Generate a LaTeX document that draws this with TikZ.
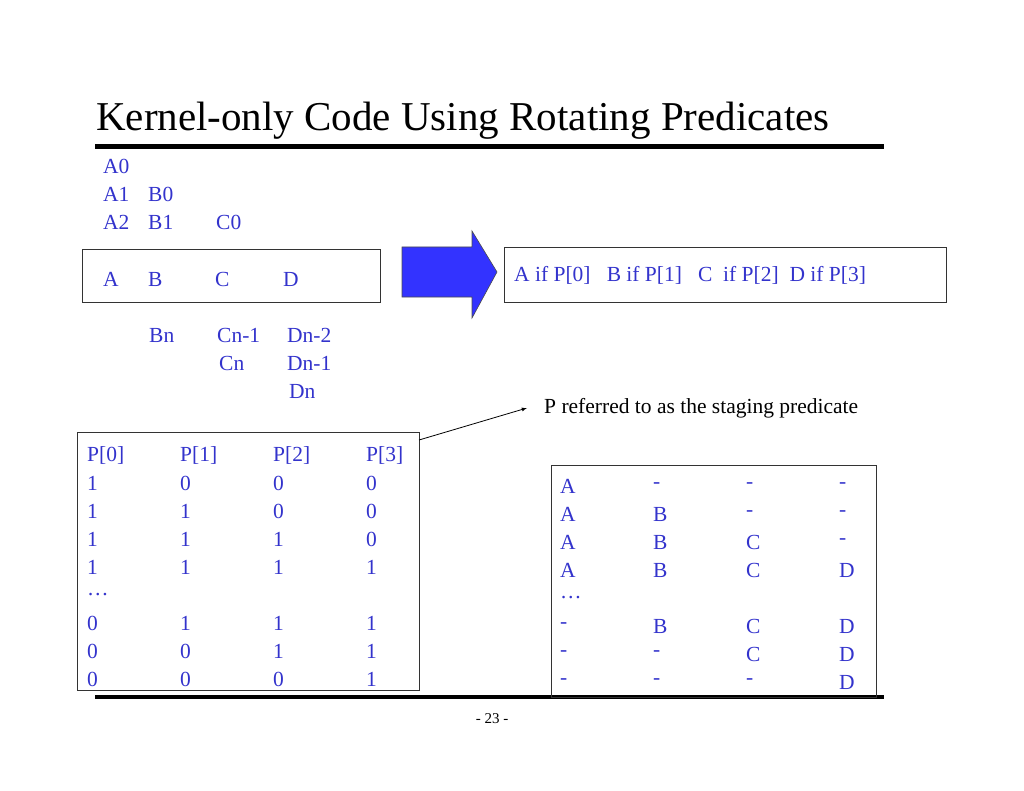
\documentclass[tikz,border=0pt]{standalone}
\usepackage{fontspec}
\setmainfont{Liberation Serif}
\begin{document}
\begin{tikzpicture}[x=1pt,y=-1pt,
  bt/.style={text=txtblue,font=\fontsize{21.5}{23}\selectfont,anchor=west,inner sep=0pt},
  box/.style={draw=black!80,line width=1pt}]
\definecolor{txtblue}{RGB}{51,51,204}
\definecolor{arrblue}{RGB}{51,51,255}
\useasboundingbox (0,0) rectangle (1024,791);
\node[anchor=west,inner sep=0pt,font=\fontsize{41}{43}\selectfont] (title) at (96,121) {Kernel-only Code Using Rotating Predicates};
\draw[line width=5pt] (95,147) -- (884,147);
\draw[line width=4pt] (95,697) -- (884,697);
% top left
\node[bt] (a0) at (103,166) {A0};
\node[bt] (a1) at (103,194) {A1};
\node[bt] (b0) at (148,194) {B0};
\node[bt] (a2) at (103,222) {A2};
\node[bt] (b1) at (148,222) {B1};
\node[bt] (c0) at (216,222) {C0};
\draw[box] (82,250) rectangle (380,302);
\node[bt] (A) at (103,279) {A};
\node[bt] (B) at (148,279) {B};
\node[bt] (C) at (215,279) {C};
\node[bt] (D) at (283,279) {D};
\node[bt] (bn) at (149,335) {Bn};
\node[bt] (cn1) at (217,335) {Cn-1};
\node[bt] (dn2) at (287,335) {Dn-2};
\node[bt] (cn) at (219,363) {Cn};
\node[bt] (dn1) at (287,363) {Dn-1};
\node[bt] (dn) at (289,391) {Dn};
% arrow
\draw[fill=arrblue,draw=black!70,line width=0.6pt] (402,247) -- (472,247) -- (472,231) -- (497,272) -- (472,318) -- (472,297) -- (402,297) -- cycle;
\draw[box] (504,248) rectangle (946,302);
\node[bt] (pred) at (514,275) {A if P[0]\ \ \ B if P[1]\ \ \ C\ \ if P[2]\ \ D if P[3]};
% note
\node[anchor=west,inner sep=0pt,font=\fontsize{21.5}{23}\selectfont] (note) at (544,408) {P referred to as the staging predicate};
\coordinate (ne) at (527,408);
% P table
\draw[box] (77,432) rectangle (419,690);
\coordinate (ptr) at (419,440);
\draw[-latex,line width=0.8pt] (ptr) -- (ne);
\foreach \r [count=\i from 0] in {{P[0],P[1],P[2],P[3]},{1,0,0,0},{1,1,0,0},{1,1,1,0},{1,1,1,1},{\dots,,,},{0,1,1,1},{0,0,1,1},{0,0,0,1}}{
  \foreach \c [count=\j from 0] in \r {
    \node[bt] (p\i\j) at (87+93*\j,455+28*\i) {\c};
  }
}
% stage table
\draw[box] (551,465) rectangle (876,697);
\foreach \r [count=\i from 0] in {{A,-,-,-},{A,B,-,-},{A,B,C,-},{A,B,C,D},{\dots,,,},{-,B,C,D},{-,-,C,D},{-,-,-,D}}{
  \foreach \c [count=\j from 0] in \r {
    \node[bt] (s\i\j) at (560+93*\j,486+28*\i) {\c};
  }
}
\node[anchor=center,inner sep=0pt,font=\fontsize{15}{16}\selectfont] (pg) at (492,719) {- 23 -};
\end{tikzpicture}
\end{document}
